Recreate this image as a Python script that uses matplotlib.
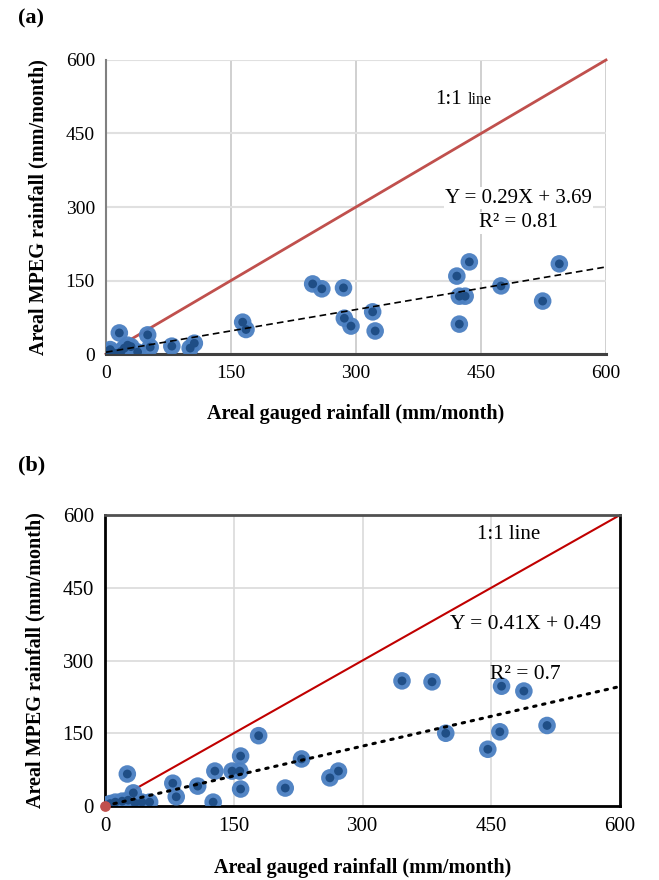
import matplotlib
matplotlib.use("Agg")
import matplotlib.pyplot as plt
import numpy as np

plt.rcParams['font.family'] = ['Liberation Serif', 'DejaVu Serif']

# ---- Panel (a) data ----
gauged_a = [0, 2, 5, 8, 12, 16, 18, 22, 26, 30, 38, 50, 53, 79, 101, 106,
            164, 168, 248, 259, 285, 286, 294, 320, 323,
            421, 424, 424, 431, 436, 474, 524, 544]
mpeg_a = [1, 5, 9, 3, 1, 43, 5, 12, 18, 15, 4, 39, 14, 16, 12, 22,
          65, 50, 143, 133, 135, 73, 57, 86, 47,
          159, 118, 61, 118, 188, 139, 108, 184]
slope_a, icpt_a, r2_a = 0.29, 3.69, 0.81

# ---- Panel (b) data ----
gauged_b = [0, 3, 6, 8, 12, 20, 26, 27, 33, 35, 43, 52,
            79, 83, 108, 126, 128, 148, 157, 158, 158, 179,
            210, 229, 262, 272, 346, 381, 397, 446, 460, 462, 488, 515]
mpeg_b = [0, 2, 5, 3, 8, 10, 66, 12, 27, 6, 8, 8,
          47, 19, 41, 8, 72, 72, 72, 103, 35, 145,
          37, 97, 58, 72, 258, 256, 150, 117, 153, 247, 237, 166]
slope_b, icpt_b, r2_b = 0.41, 0.49, 0.7

ticks = [0, 150, 300, 450, 600]

fig = plt.figure(figsize=(6.59, 8.80), dpi=100)

outer_c = '#4a7fc1'
inner_c = '#1f4e86'

def scatter(ax, x, y):
    ax.scatter(x, y, s=160, color=outer_c, edgecolors='none', zorder=3, alpha=0.95)
    ax.scatter(x, y, s=40, color=inner_c, edgecolors='none', zorder=4)

# ---------- Panel (a) ----------
ax1 = fig.add_axes([106/659, 1-354/880, 500/659, 294/880])
ax1.set_xlim(0, 600)
ax1.set_ylim(0, 600)
ax1.set_xticks(ticks)
ax1.set_yticks(ticks)
ax1.xaxis.grid(True, color='#c8c8c8', lw=1.2, zorder=0)
ax1.yaxis.grid(True, color='#e0e0e0', lw=1.5, zorder=0)
ax1.set_axisbelow(True)
for s in ['top', 'right']:
    ax1.spines[s].set_visible(False)
ax1.spines['left'].set_color('#808080')
ax1.spines['left'].set_linewidth(1.5)
ax1.spines['bottom'].set_color('#404040')
ax1.spines['bottom'].set_linewidth(2.2)
ax1.tick_params(length=0, labelsize=14, pad=8)
xx = np.array([0, 600])
ax1.plot(xx, xx, color='#c0504d', lw=2, zorder=2, clip_on=False)
scatter(ax1, gauged_a, mpeg_a)
ax1.plot(xx, slope_a*xx + icpt_a, color='black', lw=1.2, ls=(0, (4, 2.5)), zorder=5)
ax1.text(395, 510, '1:1', fontsize=15, va='baseline', ha='left')
ax1.text(434, 510, 'line', fontsize=11.5, va='baseline', ha='left')
ax1.text(495, 318, f'Y = {slope_a}X + {icpt_a}', fontsize=15, ha='center', va='center',
         bbox=dict(facecolor='white', edgecolor='none', pad=1), zorder=6)
ax1.text(495, 268, f'R² = {r2_a}', fontsize=15, ha='center', va='center',
         bbox=dict(facecolor='white', edgecolor='none', pad=1), zorder=6)
ax1.set_xlabel('Areal gauged rainfall (mm/month)', fontsize=14.5, fontweight='bold', labelpad=16)
ax1.set_ylabel('Areal MPEG rainfall (mm/month)', fontsize=14.5, fontweight='bold', labelpad=12)
fig.text(18/659, 1-18/880, '(a)', fontsize=16, fontweight='bold', ha='left', va='center')

# ---------- Panel (b) ----------
ax2 = fig.add_axes([105/659, 1-806/880, 515/659, 291/880])
ax2.set_xlim(0, 600)
ax2.set_ylim(0, 600)
ax2.set_xticks(ticks)
ax2.set_yticks(ticks)
ax2.grid(True, color='#dadada', lw=1.2, zorder=0)
ax2.set_axisbelow(True)
for s in ['left', 'bottom', 'right']:
    ax2.spines[s].set_color('black')
    ax2.spines[s].set_linewidth(2)
ax2.spines['top'].set_color('#505050')
ax2.spines['top'].set_linewidth(2)
ax2.tick_params(length=0, labelsize=15, pad=8)
ax2.plot(xx, xx, color='#c00000', lw=1.5, zorder=2)
scatter(ax2, gauged_b, mpeg_b)
ax2.scatter([0], [0], s=45, color='#c0504d', zorder=6, clip_on=False)
ax2.plot(xx, slope_b*xx + icpt_b, color='black', lw=2.2, ls=(0, (0.8, 2.2)),
         dash_capstyle='round', zorder=5)
ax2.text(470, 560, '1:1 line', fontsize=15, ha='center', va='center')
ax2.text(490, 375, f'Y = {slope_b}X + {icpt_b}', fontsize=15.5, ha='center', va='center')
ax2.text(490, 272, f'R² = {r2_b}', fontsize=15.5, ha='center', va='center', zorder=7)
ax2.set_xlabel('Areal gauged rainfall (mm/month)', fontsize=14.5, fontweight='bold', labelpad=16)
ax2.set_ylabel('Areal MPEG rainfall (mm/month)', fontsize=14.5, fontweight='bold', labelpad=12)
fig.text(18/659, 1-465/880, '(b)', fontsize=16, fontweight='bold', ha='left', va='center')

fig.savefig('out.png', dpi=100)
